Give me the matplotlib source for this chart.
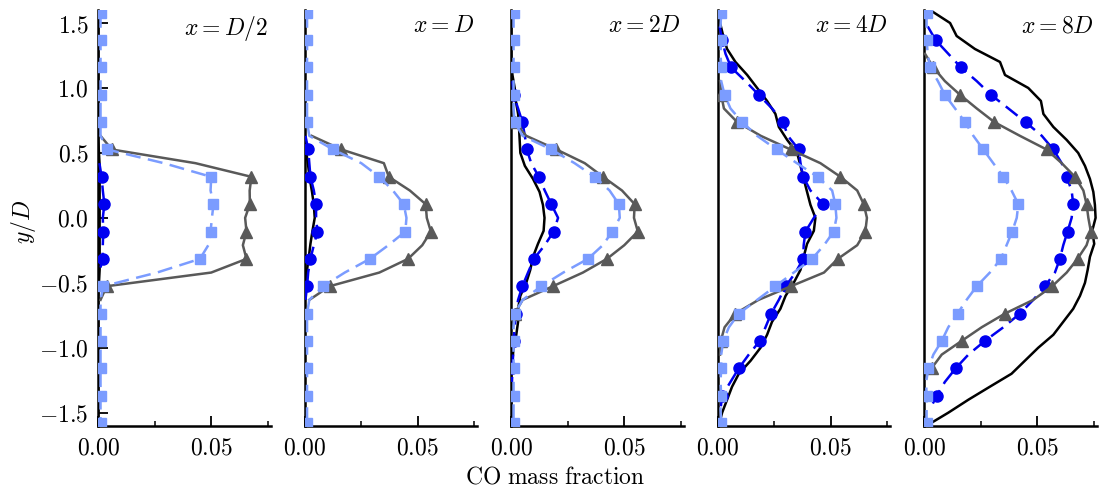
import numpy as np
import matplotlib
matplotlib.use("Agg")
import matplotlib.pyplot as plt
from matplotlib.ticker import FuncFormatter

plt.rcParams['mathtext.fontset'] = 'cm'
plt.rcParams['font.family'] = ['DejaVu Serif']

# ---------------- data ----------------
panel_titles = [r'$x = D/2$', r'$x = D$', r'$x = 2D$', r'$x = 4D$', r'$x = 8D$']

# model profiles: y/D from +1.579 (top) to -1.579 (bottom), 31 samples, markers on every second
y_model = np.linspace(1.5789, -1.5789, 31)
# experiment profiles: y/D from +1.6 to -1.6, 33 samples
y_exp = np.linspace(1.6, -1.6, 33)
nan = np.nan

exp_black = [
    [0, 0, 0, 0, 0, 0, 0, 0, 0, 0, 0, 0.0003, 0.0006, 0.0006, 0.0006, 0.0006, 0.0006,
     0.0006, 0.0006, 0.0006, 0.0006, 0.0003, 0, 0, 0, 0, 0, 0, 0, 0, 0, 0, 0],
    [0, 0, 0, 0, 0, 0, 0, 0, 0, 0, 0, 0.0007, 0.0015, 0.0022, 0.0032, 0.004, 0.0044,
     0.0034, 0.0025, 0.0018, 0.001, 0.0005, 0, 0, 0, 0, 0, 0, 0, 0, 0, 0, 0],
    [0, 0, 0, 0, 0, 0.0005, 0.0015, 0.002, 0.003, 0.0034, 0.0037, 0.004, 0.006, 0.0096,
     0.0125, 0.014, 0.0147, 0.0143, 0.0118, 0.0096, 0.0084, 0.0066, 0.004, 0.003, 0.003,
     0.0022, 0.001, 0.0005, 0, 0, 0, 0, 0],
    [0.0004, 0.001, 0.0024, 0.0041, 0.0078, 0.013, 0.0174, 0.0218, 0.0255, 0.027, 0.0307,
     0.0351, 0.0366, 0.038, 0.0395, 0.041, 0.0432, 0.0425, 0.0395, 0.038, 0.0366, 0.0336,
     0.030, 0.0277, 0.024, 0.0218, 0.0189, 0.0145, 0.0093, 0.0063, 0.0041, 0.0019, 0.0004],
    [0.0025, 0.0114, 0.0143, 0.0224, 0.0335, 0.0357, 0.046, 0.0516, 0.0527, 0.0571, 0.063,
     0.0681, 0.0711, 0.0733, 0.0748, 0.0755, 0.0758, 0.0743, 0.0752, 0.0733, 0.0723, 0.0711,
     0.0689, 0.0659, 0.0615, 0.0571, 0.0504, 0.0445, 0.0386, 0.029, 0.0195, 0.0106, 0.001],
]

model_blue = [
    [nan] * 11 + [0.0005, 0.0015, 0.002, 0.0027, 0.002, 0.0022, 0.002, 0.0019, 0.0005] + [nan] * 11,
    [nan] * 9 + [0.0003, 0.0015, 0.002, 0.0025, 0.004, 0.005, 0.005, 0.0056, 0.004, 0.0025,
                 0.0015, 0.001, 0.0003] + [nan] * 9,
    [nan] * 5 + [0.0005, 0.001, 0.003, 0.0049, 0.006, 0.0069, 0.0088, 0.0122, 0.0148, 0.0177,
                 0.0207, 0.0187, 0.0148, 0.010, 0.0074, 0.0049, 0.003, 0.002, 0.0015, 0.001,
                 0.0008, 0.0005, 0.0003] + [nan] * 3,
    [nan, 0.0008, 0.0019, 0.0034, 0.0059, 0.0122, 0.0181, 0.024, 0.0289, 0.031, 0.0358, 0.0366,
     0.0378, 0.041, 0.0466, 0.0425, 0.0388, 0.038, 0.0378, 0.0344, 0.030, 0.027, 0.0236, 0.0211,
     0.0186, 0.0137, 0.0093, 0.0056, 0.0019, 0.0012, nan],
    [nan, 0.0015, 0.005, 0.0106, 0.0162, 0.0232, 0.0295, 0.0372, 0.0448, 0.052, 0.0571, 0.0608,
     0.063, 0.0652, 0.0659, 0.0652, 0.0634, 0.0615, 0.060, 0.0578, 0.0534, 0.0482, 0.0423, 0.035,
     0.0268, 0.0195, 0.0139, 0.0091, 0.0055, 0.0025, nan],
]

model_gray = [
    [nan] * 9 + [0.001, 0.006, 0.043, 0.0678, 0.067, 0.0671, 0.065, 0.0656, 0.064, 0.0656,
                 0.05, 0.0037, 0.001] + [nan] * 9,
    [nan] * 9 + [0.003, 0.0162, 0.035, 0.0372, 0.0465, 0.0535, 0.054, 0.0558, 0.052, 0.0457,
                 0.033, 0.011, 0.002] + [nan] * 9,
    [nan] * 8 + [0.0015, 0.0066, 0.020, 0.0325, 0.0406, 0.049, 0.0546, 0.0543, 0.056, 0.050,
                 0.0423, 0.0317, 0.0184, 0.005, 0.0015] + [nan] * 8,
    [nan] * 5 + [0.001, 0.0015, 0.0027, 0.0086, 0.019, 0.0322, 0.0454, 0.0543, 0.0617, 0.0646,
                 0.066, 0.0653, 0.0617, 0.0531, 0.047, 0.0324, 0.018, 0.0078, 0.003, 0.0013,
                 0.001] + [nan] * 5,
    [nan] * 3 + [0.0003, 0.004, 0.0091, 0.0158, 0.0232, 0.031, 0.0423, 0.0541, 0.0608, 0.0667,
                 0.0704, 0.0718, 0.0726, 0.0737, 0.0718, 0.0678, 0.063, 0.0566, 0.0482, 0.0357,
                 0.0254, 0.0165, 0.0077, 0.0032] + [nan] * 4,
]

model_light = [
    [0.001] * 10 + [0.004, 0.029, 0.050, 0.0497, 0.051, 0.0503, 0.0497, 0.0487, 0.045, 0.026,
                    0.0022] + [0.001] * 10,
    [0.001] * 9 + [0.002, 0.0125, 0.025, 0.033, 0.039, 0.0438, 0.045, 0.0445, 0.037, 0.0288,
                   0.0177, 0.0081, 0.002] + [0.001] * 9,
    [0.001] * 8 + [0.0015, 0.005, 0.0177, 0.028, 0.0369, 0.0435, 0.0476, 0.048, 0.0447, 0.0405,
                   0.0339, 0.023, 0.0133, 0.005, 0.0015] + [0.001] * 8,
    [0.0015, 0.0012, 0.0015, 0.0012, 0.0015, 0.0015, 0.003, 0.0056, 0.0108, 0.0174, 0.026, 0.035,
     0.0442, 0.0506, 0.052, 0.0525, 0.0513, 0.047, 0.0417, 0.0336, 0.0255, 0.0174, 0.0093,
     0.0049, 0.0024, 0.0015, 0.0015, 0.0012, 0.0015, 0.0012, 0.0015],
    [0.001, 0.001, 0.001, 0.0015, 0.0025, 0.006, 0.0091, 0.0136, 0.018, 0.0217, 0.0261, 0.0305,
     0.035, 0.0386, 0.0416, 0.0409, 0.0389, 0.0364, 0.0339, 0.029, 0.0232, 0.0187, 0.0147,
     0.0106, 0.0077, 0.004, 0.0018, 0.0008, 0.001, 0.001, 0.001],
]

x_ticks_major = [0.0, 0.05]
x_ticks_minor = [0.025, 0.075]
y_ticks = [-1.5, -1.0, -0.5, 0.0, 0.5, 1.0, 1.5]

# ---------------- style ----------------
c_black = '#000000'
c_blue = '#0000f0'
c_gray = '#595959'
c_light = '#7b9cff'
FS = 17

fig, axes = plt.subplots(1, 5, figsize=(11.03, 4.91), dpi=100, sharey=True)
fig.subplots_adjust(left=0.0891, right=0.9943, bottom=0.133, top=0.9796, wspace=0.198)

fmt_x = FuncFormatter(lambda v, p: r'$%.2f$' % v)
fmt_y = FuncFormatter(lambda v, p: r'$%.1f$' % v if v >= 0 else r'$-%.1f$' % (-v))

for i, ax in enumerate(axes):
    ax.plot(exp_black[i], y_exp, color=c_black, lw=1.8, zorder=2)
    ax.plot(model_blue[i], y_model, color=c_blue, lw=1.8, dashes=(6, 3),
            marker='o', ms=8, markevery=(0, 2), zorder=3)
    ax.plot(model_gray[i], y_model, color=c_gray, lw=1.8,
            marker='^', ms=8, markevery=(0, 2), zorder=4)
    ax.plot(model_light[i], y_model, color=c_light, lw=1.8, dashes=(6, 3),
            marker='s', ms=7.5, markevery=(0, 2), zorder=5)

    ax.set_xlim(0, 0.0763)
    ax.set_ylim(-1.6, 1.6)
    for s in ('top', 'right'):
        ax.spines[s].set_visible(False)
    for s in ('left', 'bottom'):
        ax.spines[s].set_linewidth(1.8)
    ax.set_xticks(x_ticks_major)
    ax.set_xticks(x_ticks_minor, minor=True)
    ax.xaxis.set_major_formatter(fmt_x)
    ax.tick_params(axis='x', which='major', direction='in', length=7, width=1.3,
                   labelsize=FS, pad=8)
    ax.tick_params(axis='x', which='minor', direction='in', length=3.5, width=1.1)
    if i == 0:
        ax.set_yticks(y_ticks)
        ax.yaxis.set_major_formatter(fmt_y)
        ax.tick_params(axis='y', which='major', direction='in', length=7, width=1.3,
                       labelsize=FS, pad=7)
    else:
        ax.tick_params(axis='y', which='both', left=False, labelleft=False)
    ax.text(0.985, 0.99, panel_titles[i], transform=ax.transAxes, ha='right', va='top',
            fontsize=FS)

fig.text(555 / 1103, 1 - 477 / 491, r'$\mathrm{CO\ mass\ fraction}$', ha='center',
         va='center', fontsize=FS)
fig.text(23 / 1103, 1 - 222 / 491, r'$y/D$', ha='center', va='center', rotation=90,
         fontsize=FS)

fig.savefig('out.png', dpi=100)
